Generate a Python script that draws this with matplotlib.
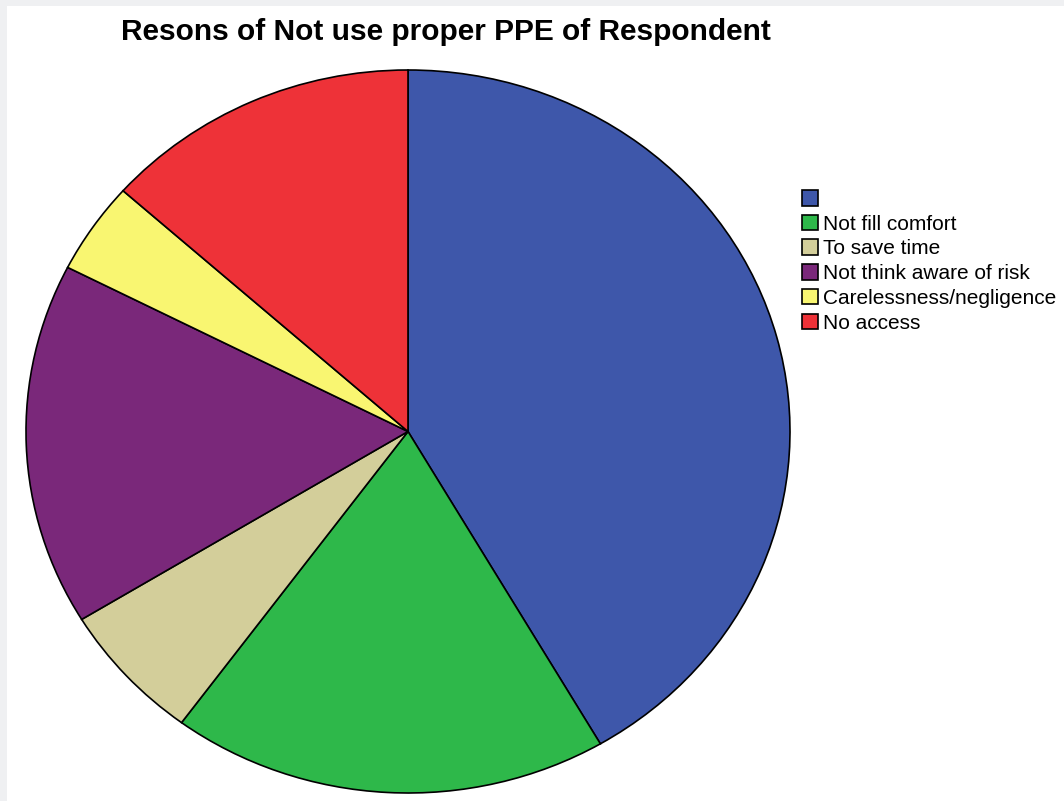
import matplotlib
matplotlib.use("Agg")
import matplotlib.pyplot as plt
from matplotlib.patches import Rectangle

# ── Data (% of respondents) ──
reasons = ["", "Not fill comfort", "To save time", "Not think aware of risk",
           "Carelessness/negligence", "No access"]
shares = [41.6, 18.5, 6.2, 16.2, 4.1, 13.4]
colors = ["#3e57aa", "#2eb84a", "#d3ce9a", "#7a287a", "#f9f671", "#ee3238"]

W, H = 1064, 801
plt.rcParams["font.family"] = ["Liberation Sans", "DejaVu Sans"]
fig = plt.figure(figsize=(W / 100, H / 100), dpi=100, facecolor="white")

# light grey frame strips on the left and top edge
fig.patches.append(Rectangle((0, 0), 7 / W, 1, transform=fig.transFigure,
                             facecolor="#eff0f2", edgecolor="none", zorder=0))
fig.patches.append(Rectangle((0, 1 - 6 / H), 1, 6 / H, transform=fig.transFigure,
                             facecolor="#eff0f2", edgecolor="none", zorder=0))

# pie is slightly stretched horizontally in the original, so no equal aspect
ax = fig.add_axes([26 / W, 8 / H, 764 / W, 723 / H])
wedges, _ = ax.pie(shares, colors=colors, startangle=90, counterclock=False,
                   wedgeprops={"edgecolor": "black", "linewidth": 1.2})
ax.set_aspect("auto")
ax.set_xlim(-1, 1)
ax.set_ylim(-1, 1)
ax.axis("off")

fig.text(446 / W, 1 - 32 / H, "Resons of Not use proper PPE of Respondent",
         ha="center", va="center", fontsize=21.5, fontweight="bold")

fig.legend(wedges, reasons, loc="upper left",
           bbox_to_anchor=(802 / W, 1 - 190 / H), frameon=False,
           fontsize=15, handlelength=0.78, handleheight=0.78,
           handletextpad=0.25, labelspacing=0.27, borderpad=0,
           borderaxespad=0)

fig.savefig("out.png", dpi=100, facecolor="white")
